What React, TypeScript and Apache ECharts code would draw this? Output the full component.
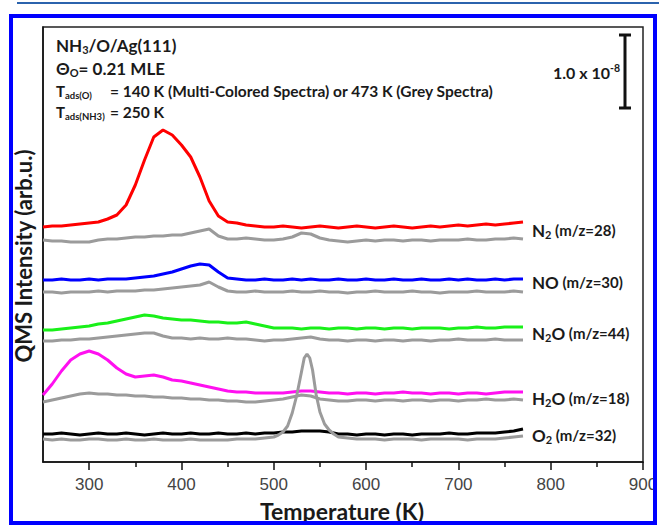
import React, { useEffect, useRef } from 'react';
import * as echarts from 'echarts';

// Temperature grid (K)
const temps = [250, 260, 270, 280, 290, 300, 310, 320, 330, 340,
  350, 360, 370, 380, 390, 400, 410, 420, 430, 440,
  450, 460, 470, 480, 490, 500, 510, 520, 530, 540,
  550, 560, 570, 580, 590, 600, 610, 620, 630, 640,
  650, 660, 670, 680, 690, 700, 710, 720, 730, 740,
  750, 760, 770];

// Signals relative to each trace's baseline (arb.u.)
const n2Color = [0, 1, 1, 2, 3, 4, 5, 8, 12, 22,
  42, 67, 90, 97, 92, 82, 70, 50, 26, 11,
  5, 4, 2, 1, 0, 0, 1, 0, -1, 0,
  1, 0, -1, 0, 1, 0, -1, 0, 1, 0,
  -1, 0, 1, 0, 1, 2, 1, 2, 3, 2,
  3, 4, 5];
const n2Grey = [0, -1, -1, -2, -2, -2, 0, 1, 1, 2,
  3, 3, 4, 4, 5, 5, 7, 9, 11, 4,
  1, 1, 2, 1, 0, 0, 1, 3, 7, 6,
  2, 0, -1, -2, -1, 0, -1, 0, 0, -1,
  0, 0, -1, 0, 0, 0, 1, 0, 0, 1,
  1, 2, 1];
const noColor = [0, 0, 1, 0, 0, 1, 0, 1, 1, 1,
  2, 3, 4, 6, 8, 11, 14, 16, 15, 8,
  2, 1, 0, 0, 1, 0, 0, 1, 0, 1,
  0, 0, 1, 0, 0, 1, 0, 0, 1, 0,
  0, 1, 0, 0, 1, 0, 1, 0, 0, 1,
  0, 1, 1];
const noGrey = [0, 0, -1, 0, 0, 0, 1, 0, 1, 1,
  1, 2, 2, 3, 4, 5, 6, 7, 10, 5,
  1, 0, 0, 1, 0, 0, 0, 1, 0, 0,
  1, 0, 0, -1, 0, 0, 1, 0, 0, 0,
  1, 0, 0, -1, 0, 0, 0, 1, 0, 0,
  0, 1, 0];
const n2oColor = [0, 0, 1, 2, 3, 4, 6, 7, 9, 11,
  13, 15, 14, 12, 11, 10, 10, 9, 8, 8,
  7, 7, 8, 6, 4, 2, 2, 2, 1, 2,
  2, 1, 2, 2, 1, 2, 2, 1, 2, 2,
  1, 2, 2, 2, 1, 2, 2, 3, 2, 2,
  3, 3, 3];
const n2oGrey = [-1, -1, 0, 0, 1, 1, 2, 3, 4, 5,
  6, 7, 7, 4, 2, 2, 1, 2, 1, 1,
  2, 1, 1, 0, -1, 0, 0, 1, 2, 3,
  1, 0, 0, -1, 0, 0, -1, 0, 0, -1,
  0, 0, -1, 0, 0, 1, 0, 0, 0, 1,
  0, 0, 0];
const h2oColor = [-2, 9, 22, 33, 39, 42, 39, 33, 25, 19,
  16, 17, 18, 16, 13, 12, 10, 8, 6, 4,
  2, 1, 1, 0, 0, 0, 0, 1, 2, 2,
  1, 0, 0, -1, 0, 0, -1, 0, 0, 1,
  0, 0, -1, 0, 0, -1, 0, 0, -1, 0,
  1, 1, 1];
const h2oGrey = [-2, 0, 2, 4, 6, 7, 6, 6, 5, 5,
  4, 4, 3, 3, 2, 2, 1, 1, 0, 0,
  -1, -1, -2, -2, -1, 0, 1, 3, 5, 4,
  1, 0, -1, -1, 0, 0, -1, 0, 0, -1,
  0, 0, -1, 0, 0, -1, 0, 0, 1, 0,
  0, 1, 0];
const o2Color = [0, 0, 1, 0, -1, 0, 1, 0, 0, 1,
  0, -1, 0, 1, 0, 0, 1, 0, 0, 1,
  0, 0, 1, 0, 1, 1, 2, 2, 3, 3,
  3, 2, 0, 0, -1, 0, 0, -1, 0, 0,
  -1, 0, 0, 0, 1, 0, 0, 1, 1, 1,
  2, 3, 5];
const o2GreyTemps = [250, 260, 270, 280, 290, 300, 310, 320, 330, 340,
  350, 360, 370, 380, 390, 400, 410, 420, 430, 440,
  450, 460, 470, 480, 490, 500,
  505, 510, 515, 520, 525, 530, 533, 536, 539, 542, 546, 550, 555, 560, 565, 570,
  580, 590, 600, 610, 620, 630, 640, 650, 660, 670,
  680, 690, 700, 710, 720, 730, 740, 750, 760, 770];
const o2Grey = [0, -1, 0, -1, -1, 0, 0, -1, -1, 0,
  -1, -1, 0, -1, -1, -1, 0, -1, -1, -1,
  -1, 0, 0, 0, 1, 2,
  4, 7, 13, 26, 44, 67, 81, 85, 81, 69, 44, 27, 15, 9, 5, 2,
  1, 0, 0, 0, -1, 0, 0, 0, -1, 0,
  0, 0, 0, -1, 0, 0, 0, 1, 2, 3];

// Vertical offsets of the stacked traces (arb.u.)
const offsets = { n2: 235, n2Grey: 222, no: 182, noGrey: 170, n2o: 132, n2oGrey: 122, h2o: 69, h2oGrey: 62, o2: 28, o2Grey: 23 };

const xMajorTicks = [300, 400, 500, 600, 700, 800, 900];
const xMinorTicks = [350, 450, 550, 650, 750, 850];

const FONT = 'Lato, "Open Sans", sans-serif';
const TXT = '#1a1a1a';
const GREY = '#9b9b9b';

function rs(size: number, extra: any = {}) {
  return { fontSize: size, fontWeight: 'bold', fontFamily: FONT, fill: TXT, color: TXT, lineHeight: Math.round(size * 1.2), ...extra };
}

function richText(x: number, y: number, text: string, rich: any, align = 'left') {
  return {
    type: 'text', x, y, z: 50,
    style: { text, rich, align, textAlign: align, verticalAlign: 'middle', textVerticalAlign: 'middle', fill: TXT, fontSize: 14, fontWeight: 'bold', fontFamily: FONT },
  };
}

const species = [
  { y: 230, a: 'N', s: '2', b: '', mz: '28' },
  { y: 282, a: 'NO', s: '', b: '', mz: '30' },
  { y: 333, a: 'N', s: '2', b: 'O', mz: '44' },
  { y: 398, a: 'H', s: '2', b: 'O', mz: '18' },
  { y: 435, a: 'O', s: '2', b: '', mz: '32' },
];

export default function App() {
  const ref = useRef<HTMLDivElement>(null);
  useEffect(() => {
    if (!ref.current) return;
    const chart = echarts.init(ref.current, undefined, { renderer: 'svg' });
    const mk = (name: string, xs: number[], ds: number[], off: number, color: string, z = 3) => ({
      type: 'line', name, data: xs.map((t, i) => [t, off + ds[i]]), showSymbol: false, symbol: 'none',
      lineStyle: { color, width: 3 }, itemStyle: { color }, silent: true, z, xAxisIndex: 0, yAxisIndex: 0,
    });
    const speciesRich = {
      f: rs(17, { lineHeight: 20 }),
      s: rs(11, { lineHeight: 11, verticalAlign: 'bottom' }),
      m: rs(15, { lineHeight: 20 }),
    };
    const speciesTexts = species.map((sp) => {
      let t = `{f|${sp.a}}`;
      if (sp.s) t += `{s|${sp.s}}`;
      if (sp.b) t += `{f|${sp.b}}`;
      t += `{m| (m/z=${sp.mz})}`;
      return richText(532, sp.y, t, speciesRich);
    });
    const headRich = {
      f: rs(17, { lineHeight: 20 }),
      s: rs(11, { lineHeight: 11, verticalAlign: 'bottom' }),
      t: rs(15, { lineHeight: 18 }),
      ts: rs(9.5, { lineHeight: 10, verticalAlign: 'bottom' }),
    };
    chart.setOption({
      animation: false,
      backgroundColor: '#ffffff',
      grid: { left: 43, top: 27, width: 600, height: 435, show: true, borderColor: '#222', borderWidth: 1.5, backgroundColor: 'transparent', containLabel: false, outerBoundsMode: 'none' },
      xAxis: [
        {
          type: 'value', min: 250, max: 900, position: 'bottom',
          axisLine: { show: true, onZero: false, lineStyle: { color: '#111', width: 1.5 } },
          axisTick: { show: true, inside: false, length: 8, lineStyle: { color: '#111', width: 1.5 }, customValues: xMajorTicks },
          axisLabel: { show: true, customValues: xMajorTicks, margin: 14, fontSize: 17, color: '#444', fontFamily: '"Liberation Sans Narrow", "Liberation Sans", sans-serif' },
          splitLine: { show: false }, minorTick: { show: false },
        },
        {
          type: 'value', min: 250, max: 900, position: 'bottom', gridIndex: 0,
          axisLine: { show: false, onZero: false },
          axisTick: { show: true, inside: false, length: 5, lineStyle: { color: '#111', width: 1.5 }, customValues: xMinorTicks },
          axisLabel: { show: false }, splitLine: { show: false },
        },
      ],
      yAxis: {
        type: 'value', min: 0, max: 435,
        axisLine: { show: true, lineStyle: { color: '#111', width: 1.5 } },
        axisTick: { show: false }, axisLabel: { show: false }, splitLine: { show: false },
      },
      series: [
        mk('N2 grey', temps, n2Grey, offsets.n2Grey, GREY, 2),
        mk('NO grey', temps, noGrey, offsets.noGrey, GREY, 2),
        mk('N2O grey', temps, n2oGrey, offsets.n2oGrey, GREY, 2),
        mk('H2O grey', temps, h2oGrey, offsets.h2oGrey, GREY, 2),
        mk('N2', temps, n2Color, offsets.n2, '#ff0000'),
        mk('NO', temps, noColor, offsets.no, '#0000ff'),
        mk('N2O', temps, n2oColor, offsets.n2o, '#19f019'),
        mk('H2O', temps, h2oColor, offsets.h2o, '#ff10f0'),
        mk('O2', temps, o2Color, offsets.o2, '#000000'),
        mk('O2 grey', o2GreyTemps, o2Grey, offsets.o2Grey, GREY, 4),
      ],
      graphic: [
        { type: 'line', z: 60, shape: { x1: 17, y1: 3, x2: 659, y2: 3 }, style: { stroke: '#2b63ad', lineWidth: 2 } },
        { type: 'rect', z: 100, shape: { x: 11, y: 16, width: 644, height: 507 }, style: { fill: 'none', stroke: '#0000ff', lineWidth: 4 } },
        richText(56, 45, '{f|NH}{s|3}{f|/O/Ag(111)}', headRich),
        richText(56, 68, '{f|Θ}{s|O}{f|= 0.21 MLE}', headRich),
        richText(56, 91, '{t|T}{ts|ads(O)}', headRich),
        richText(110, 91, '{t|= 140 K (Multi-Colored Spectra) or 473 K (Grey Spectra)}', { t: rs(15.5, { lineHeight: 18 }) }),
        richText(56, 112, '{t|T}{ts|ads(NH3)}', headRich),
        richText(110, 112, '{t|= 250 K}', { t: rs(15.5, { lineHeight: 18 }) }),
        // scale bar
        { type: 'line', z: 60, shape: { x1: 625, y1: 35, x2: 625, y2: 108 }, style: { stroke: '#111', lineWidth: 3 } },
        { type: 'line', z: 60, shape: { x1: 619, y1: 35, x2: 631, y2: 35 }, style: { stroke: '#111', lineWidth: 3 } },
        { type: 'line', z: 60, shape: { x1: 619, y1: 108, x2: 631, y2: 108 }, style: { stroke: '#111', lineWidth: 3 } },
        richText(620, 72, '{f|1.0 x 10}{p|-8}', { f: rs(16, { lineHeight: 19 }), p: rs(10.5, { lineHeight: 10, verticalAlign: 'top' }) }, 'right'),
        ...speciesTexts,
        {
          type: 'text', z: 50, x: 342, y: 511,
          style: { text: 'Temperature (K)', fill: TXT, fontSize: 23, fontWeight: 'bold', fontFamily: FONT, align: 'center', textAlign: 'center', verticalAlign: 'middle', textVerticalAlign: 'middle' },
        },
        {
          type: 'text', z: 50, x: 23, y: 256, rotation: Math.PI / 2,
          style: { text: 'QMS Intensity (arb.u.)', fill: TXT, fontSize: 22, fontWeight: 'bold', fontFamily: FONT, align: 'center', textAlign: 'center', verticalAlign: 'middle', textVerticalAlign: 'middle' },
        },
      ],
    });
    return () => chart.dispose();
  }, []);
  return <div ref={ref} style={{ position: 'absolute', left: 0, top: 0, width: 659, height: 525, background: '#fff' }} />;
}
